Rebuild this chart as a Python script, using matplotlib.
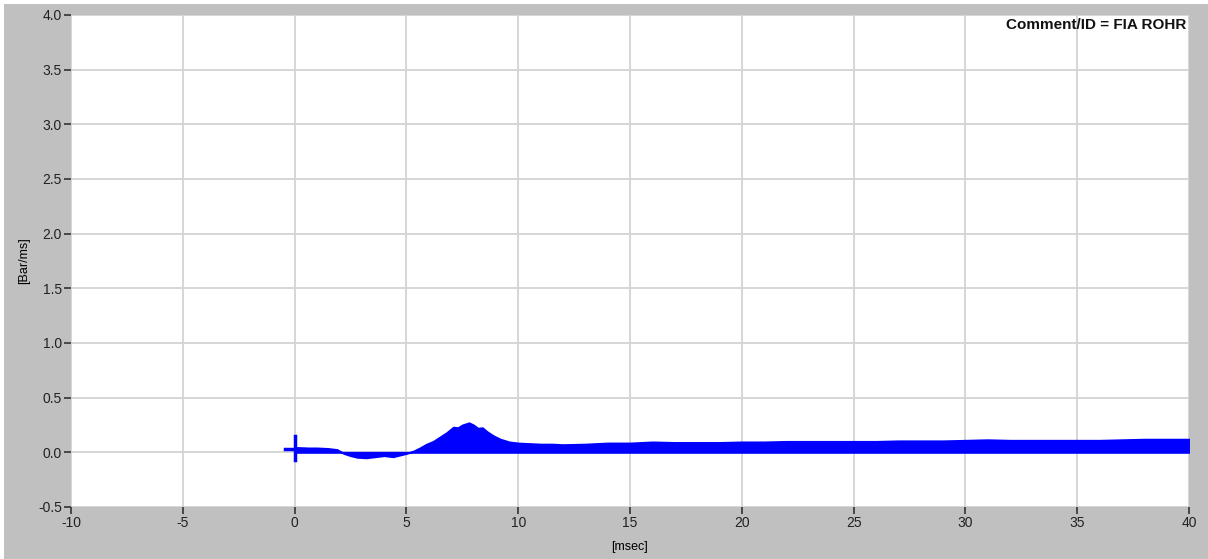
import numpy as np
import matplotlib
matplotlib.use('Agg')
import matplotlib.pyplot as plt
from matplotlib.patches import Rectangle

plt.rcParams['font.family'] = ['Liberation Sans', 'DejaVu Sans']

# Rate of heat release trace, [msec] vs [Bar/ms]
time_ms = [0, 0.5, 1.0, 1.5, 1.9, 2.2, 2.5, 2.8, 3.2, 3.6, 4.0, 4.4, 4.8, 5.0,
           5.3, 5.6, 5.9, 6.2, 6.5, 6.8, 7.1, 7.3, 7.5, 7.8, 8.0, 8.2, 8.4,
           8.6, 8.9, 9.2, 9.6, 10.0, 10.5, 11, 11.5, 12, 13, 14, 15, 16, 17,
           18, 19, 20, 21, 22, 23, 24, 25, 26, 27, 28, 29, 30, 31, 32, 33, 34,
           35, 36, 37, 38, 39, 40]
rohr = [0.045, 0.04, 0.04, 0.035, 0.025, -0.01, -0.03, -0.045, -0.05, -0.04,
        -0.03, -0.04, -0.02, -0.01, 0.01, 0.04, 0.075, 0.10, 0.14, 0.18, 0.23,
        0.225, 0.25, 0.27, 0.25, 0.22, 0.225, 0.19, 0.15, 0.12, 0.095, 0.085,
        0.08, 0.075, 0.075, 0.07, 0.075, 0.085, 0.085, 0.095, 0.09, 0.09,
        0.09, 0.095, 0.095, 0.10, 0.10, 0.10, 0.10, 0.10, 0.105, 0.105, 0.105,
        0.11, 0.115, 0.11, 0.11, 0.11, 0.11, 0.11, 0.115, 0.12, 0.12, 0.12]

# start-of-trace cursor
cursor_t = 0.0
cursor_v = 0.03

x_ticks = [-10, -5, 0, 5, 10, 15, 20, 25, 30, 35, 40]
y_ticks = [-0.5, 0.0, 0.5, 1.0, 1.5, 2.0, 2.5, 3.0, 3.5, 4.0]

fig = plt.figure(figsize=(12.08, 5.59), dpi=100, facecolor='#c0c0c0')
# thin white frame strips on the top and left edges
fig.patches.append(Rectangle((0, 1 - 4 / 559), 1, 4 / 559, transform=fig.transFigure,
                             facecolor='white', edgecolor='none'))
fig.patches.append(Rectangle((0, 0), 4 / 1208, 1, transform=fig.transFigure,
                             facecolor='white', edgecolor='none'))

ax = fig.add_axes([71 / 1208, 1 - 507 / 559, 1118 / 1208, 492 / 559])
ax.set_facecolor('white')

ax.fill_between(time_ms, 0, rohr, color='#0000ff', lw=1.4,
                edgecolor='#0000ff', zorder=3)

# cursor cross
ax.plot([cursor_t - 0.45, cursor_t - 0.05], [cursor_v, cursor_v], color='#0000ff', lw=2.5, zorder=4)
ax.plot([cursor_t + 0.05, cursor_t + 0.45], [cursor_v, cursor_v], color='#0000ff', lw=2.5, zorder=4)
ax.plot([cursor_t, cursor_t], [cursor_v + 0.02, cursor_v + 0.12], color='#0000ff', lw=2.5, zorder=4)
ax.plot([cursor_t, cursor_t], [cursor_v - 0.02, cursor_v - 0.1], color='#0000ff', lw=2.5, zorder=4)

ax.set_xlim(-10, 40)
ax.set_ylim(-0.5, 4.0)
ax.set_xticks(x_ticks)
ax.set_yticks(y_ticks)
ax.set_xticklabels([str(t) for t in x_ticks])
ax.set_yticklabels([f'{t:.1f}' for t in y_ticks])
ax.grid(True, color='#d3d3d3', lw=1.3)
ax.set_axisbelow(True)
for s in ax.spines.values():
    s.set_visible(False)
ax.tick_params(axis='both', length=5, width=1.2, color='#333333',
               labelsize=10, labelcolor='#222222', pad=1.5)

ax.set_xlabel('[msec]', fontsize=9, labelpad=8)
ax.set_ylabel('[Bar/ms]', fontsize=9, labelpad=6)

ax.text(0.9975, 0.994, 'Comment/ID = FIA ROHR', transform=ax.transAxes,
        ha='right', va='top', fontsize=11, fontweight='bold', color='#111111')

fig.savefig('out.png', dpi=100, facecolor=fig.get_facecolor())
